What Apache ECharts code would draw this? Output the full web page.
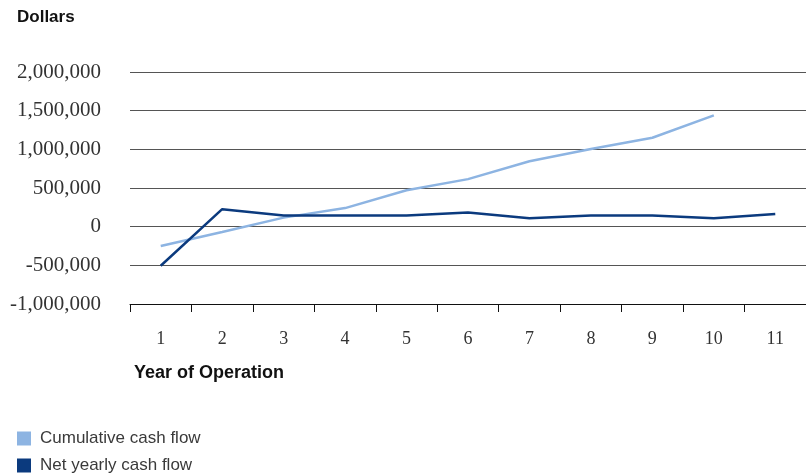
<!DOCTYPE html>
<html>
<head>
<meta charset="utf-8">
<script src="https://cdn.jsdelivr.net/npm/echarts@6/dist/echarts.min.js"></script>
<style>html,body{margin:0;padding:0;background:#fff}#c{width:806px;height:475px}</style>
</head>
<body>
<div id="c"></div>
<script>
const years = ['1','2','3','4','5','6','7','8','9','10','11'];
const cumulative = [-250000, -70000, 117000, 240000, 470000, 615000, 845000, 1005000, 1150000, 1440000, null];
const netYearly = [-505000, 226000, 143000, 143000, 143000, 182000, 109000, 143000, 143000, 109000, 165000];
const seriesNames = ['Cumulative cash flow', 'Net yearly cash flow'];
const yMin = -1000000, yMax = 2000000, yStep = 500000;

const chart = echarts.init(document.getElementById('c'), null, {renderer: 'canvas'});
const fmt = v => v.toLocaleString('en-US');
const legendBase = {
  orient: 'vertical', left: 12, itemWidth: 14, itemHeight: 14,
  icon: 'rect', selectedMode: false,
  textStyle: {fontFamily: 'Liberation Sans', fontSize: 17, color: '#3a3a3a', padding: [0, 0, 0, 4]}
};
chart.setOption({
  animation: false,
  backgroundColor: '#fff',
  title: [
    {text: 'Dollars', left: 12, top: 4, textStyle: {fontFamily: 'Liberation Sans', fontWeight: 'bold', fontSize: 17, color: '#111'}},
    {text: 'Year of Operation', left: 129, top: 359, textStyle: {fontFamily: 'Liberation Sans', fontWeight: 'bold', fontSize: 18, color: '#111'}}
  ],
  legend: [
    Object.assign({}, legendBase, {top: 425, data: [seriesNames[0]]}),
    Object.assign({}, legendBase, {top: 452, data: [seriesNames[1]]})
  ],
  grid: {left: 130, top: 72, width: 682, height: 232, containLabel: false},
  xAxis: {
    type: 'category', data: years, boundaryGap: true,
    axisLine: {onZero: false, lineStyle: {color: '#111', width: 1}},
    axisTick: {show: true, interval: 0, length: 8, lineStyle: {color: '#111'}},
    axisLabel: {fontFamily: 'Liberation Serif', fontSize: 18, color: '#333', margin: 26}
  },
  yAxis: {
    type: 'value', min: yMin, max: yMax, interval: yStep,
    axisLine: {show: false}, axisTick: {show: false},
    splitLine: {lineStyle: {color: '#555', width: 1}},
    axisLabel: {fontFamily: 'Liberation Serif', fontSize: 21, color: '#333', margin: 29, formatter: fmt}
  },
  series: [
    {name: seriesNames[0], type: 'line', data: cumulative, symbol: 'none', connectNulls: false,
     lineStyle: {color: '#8DB4E2', width: 2.5}, itemStyle: {color: '#8DB4E2'}},
    {name: seriesNames[1], type: 'line', data: netYearly, symbol: 'none',
     lineStyle: {color: '#0B3A7E', width: 2.5}, itemStyle: {color: '#0B3A7E'}}
  ]
});
</script>
</body>
</html>
